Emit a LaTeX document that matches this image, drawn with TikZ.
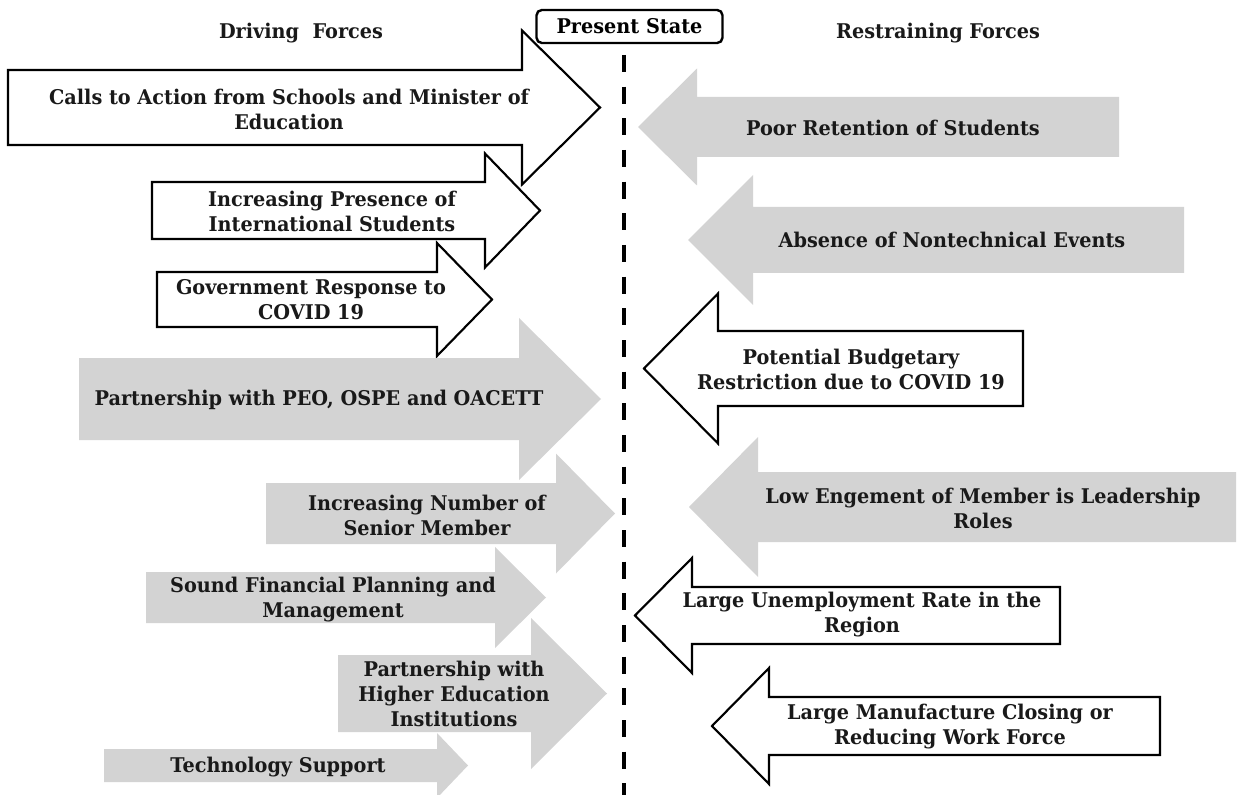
\documentclass[tikz,border=0pt]{standalone}
\usepackage{fontspec}
\setmainfont{DejaVu Serif}[FakeStretch=0.95]
\newcommand{\forcefont}{\fontsize{15.2}{18.75}\selectfont\bfseries}
% right-pointing block arrow: style, left x, head base x, tip x, mid y, body half height, head half height
\newcommand{\pushright}[7]{%
  \path[#1] (#2,#5-#6) -- (#3,#5-#6) -- (#3,#5-#7) -- (#4,#5)
    -- (#3,#5+#7) -- (#3,#5+#6) -- (#2,#5+#6) -- cycle;}
% left-pointing block arrow: style, right x, head base x, tip x, mid y, body half height, head half height
\newcommand{\pushleft}[7]{%
  \path[#1] (#2,#5-#6) -- (#3,#5-#6) -- (#3,#5-#7) -- (#4,#5)
    -- (#3,#5+#7) -- (#3,#5+#6) -- (#2,#5+#6) -- cycle;}
\tikzset{
  openarrow/.style={fill=white, draw=black, line width=1.6pt, line join=miter},
  greyarrow/.style={fill=forcegrey},
  lbl/.style={font=\forcefont, align=center, inner sep=0pt, text=black!90},
  header/.style={font=\forcefont, inner sep=0pt, text=black!90},
}
\definecolor{forcegrey}{RGB}{211,211,211}
\begin{document}
\begin{tikzpicture}[x=0.75pt, y=-0.75pt]
\useasboundingbox (0,0) rectangle (1240,795);

% present state divider
\coordinate (dtop) at (624,55);
\coordinate (dbot) at (624,800);
\draw[line width=3.6pt, dash pattern=on 12.75pt off 11pt] (dtop) -- (dbot);
\node[draw, line width=1.8pt, rounded corners=4pt, minimum width=139.5pt, minimum height=24.75pt,
      font=\forcefont, inner sep=0pt] (state) at (629.5,26.5) {Present State};

% column headings
\node[header] (hdrive) at (301,33) {Driving~ Forces};
\node[header] (hrestrain) at (938,33) {Restraining Forces};

% driving forces
\pushright{openarrow}{8}{522}{600}{107.5}{37.5}{77}
\node[lbl] (d1) at (289,109) {Calls to Action from Schools and Minister of\\Education};
\pushright{openarrow}{152}{485}{540}{210.5}{28.5}{57}
\node[lbl] (d2) at (332,211) {Increasing Presence of\\International Students};
\pushright{openarrow}{157}{437}{492}{299.5}{27.5}{56.5}
\node[lbl] (d3) at (311,300) {Government Response to\\COVID 19};
\pushright{greyarrow}{79}{519}{601}{399}{41}{81}
\node[lbl] (d4) at (319,400) {Partnership with PEO, OSPE and OACETT};
\pushright{greyarrow}{266}{556}{615}{513.5}{30.5}{60}
\node[lbl] (d5) at (427,515) {Increasing Number of\\Senior Member};
\pushright{greyarrow}{146}{495}{546}{597.5}{25.5}{50.5}
\node[lbl] (d6) at (333,600) {Sound Financial Planning and\\Management};
\pushright{greyarrow}{338}{531}{607}{693.5}{38.5}{75.5}
\node[lbl] (d7) at (454,694) {Partnership with\\Higher Education\\Institutions};
\pushright{greyarrow}{104}{437}{468}{765.5}{16.5}{32.5}
\node[lbl] (d8) at (278,767) {Technology Support};

% restraining forces
\pushleft{greyarrow}{1119}{697}{638}{127}{30}{58.5}
\node[lbl] (r1) at (893,128) {Poor Retention of Students};
\pushleft{greyarrow}{1184}{753}{688}{240}{33}{65}
\node[lbl] (r2) at (952,240) {Absence of Nontechnical Events};
\pushleft{openarrow}{1023}{718}{644}{368.5}{37.5}{75}
\node[lbl] (r3) at (851,369) {Potential Budgetary\\Restriction due to COVID 19};
\pushleft{greyarrow}{1236}{758}{689}{507}{35}{70}
\node[lbl] (r4) at (983,508) {Low Engement of Member is Leadership\\Roles};
\pushleft{openarrow}{1060}{692}{635}{615.5}{28.5}{57.5}
\node[lbl] (r5) at (862,615) {Large Unemployment Rate in the\\Region};
\pushleft{openarrow}{1160}{769}{712}{726}{29}{58}
\node[lbl] (r6) at (950,727) {Large Manufacture Closing or\\Reducing Work Force};
\end{tikzpicture}
\end{document}
